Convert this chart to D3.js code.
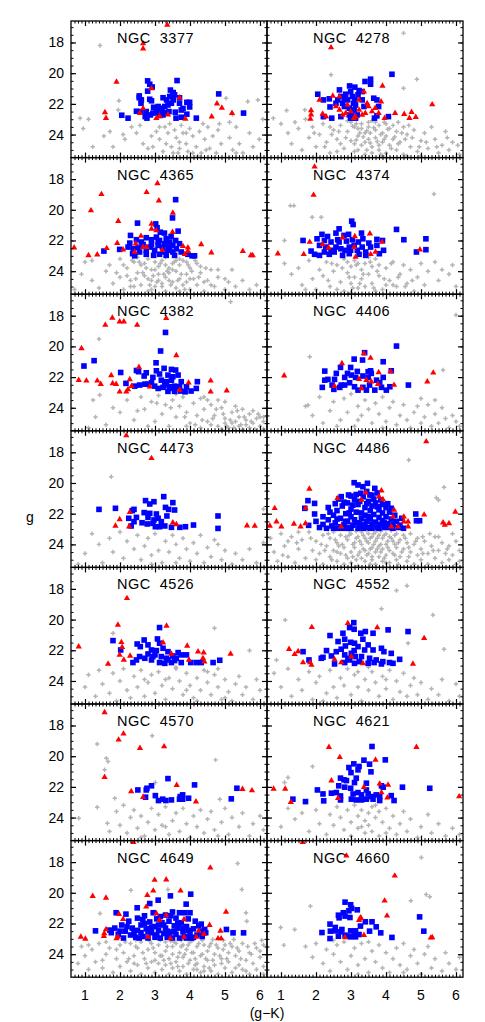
<!doctype html>
<html>
<head>
<meta charset="utf-8">
<script src="https://d3js.org/d3.v7.min.js"></script>
<style>
body { margin:0; background:#fff; }
text { font-family:"Liberation Sans", Arial, sans-serif; fill:#000; }
</style>
</head>
<body>
<script>
// ---------- data: flat lists of (g-K, g) pairs ----------
var galaxyNames = ['NGC 3377','NGC 4278','NGC 4365','NGC 4374','NGC 4382','NGC 4406','NGC 4473',
                   'NGC 4486','NGC 4526','NGC 4552','NGC 4570','NGC 4621','NGC 4649','NGC 4660'];
var xTicks = [1,2,3,4,5,6];
var yTicks = [18,20,22,24];

var ngc3377Red = [3.35,16.85, 2.66,18.07, 2.66,18.4, 1.9,20.57, 1.57,22.55, 1.6,22.93, 2.66,22.3, 2.57,22.6, 2.9,21.0,
  3.04,22.93, 3.13,22.8, 3.37,22.7, 3.7,21.6, 3.87,22.98, 4.62,22.83, 4.77,21.98, 4.91,22.26, 5.2,22.6];
var ngc3377Blue = [2.79,20.5, 2.85,20.72, 2.92,20.9, 2.79,21.17, 2.55,21.48, 2.55,21.6, 2.61,21.74, 2.85,21.7, 2.9,21.8,
  2.6,21.96, 2.47,22.48, 2.6,22.5, 2.75,22.5, 2.72,22.83, 2.87,22.72, 2.96,22.22, 3.04,22.4, 3.13,22.28, 3.2,22.4,
  3.28,22.17, 3.23,21.6, 3.33,21.74, 3.37,22.07, 3.44,21.1, 3.52,21.26, 3.5,21.48, 3.56,21.41, 3.63,20.48, 3.42,21.52,
  3.47,21.96, 3.52,21.74, 3.4,22.5, 3.33,22.57, 3.23,22.72, 3.14,22.76, 3.04,22.57, 2.94,22.6, 3.58,22.54, 3.6,22.93,
  3.75,22.87, 3.7,21.96, 3.75,22.4, 3.8,22.3, 3.91,21.9, 3.99,21.9, 3.99,22.2, 3.91,22.67, 4.18,22.93, 4.82,21.35,
  5.53,22.6, 2.23,22.93, 2.05,22.74, 2.77,22.93, 3.7,21.6, 3.21,22.6, 3.09,22.17];
var ngc3377Grey = [1.43,18.2, 1.97,21.8, 0.86,22.93, 1.1,23.0, 0.95,23.6, 1.22,24.8, 1.54,24.1, 1.8,24.8, 2.09,24.0,
  2.14,24.3, 2.33,23.5, 2.47,23.9, 2.57,23.4, 2.66,24.6, 2.8,24.9, 2.9,24.1, 3.04,23.8, 3.13,24.3, 3.23,25.1, 3.28,23.5,
  3.37,23.9, 3.42,23.3, 3.47,24.8, 3.52,25.2, 3.56,23.7, 3.61,24.2, 3.7,24.9, 3.75,23.4, 3.8,23.9, 3.89,24.6, 3.94,25.1,
  3.99,23.6, 4.08,24.1, 4.18,24.8, 4.27,23.8, 4.32,25.2, 4.42,24.3, 4.51,23.5, 4.56,24.9, 4.65,24.1, 4.75,25.2, 4.8,23.7,
  4.89,24.6, 5.03,21.63, 5.13,24.2, 5.22,25.0, 5.32,23.5, 5.41,24.6, 5.51,25.2, 5.65,21.85, 5.7,23.9, 5.8,24.8,
  5.94,21.74, 5.98,24.3, 6.08,23.0, 1.95,22.4, 1.71,23.8, 3.13,23.5, 3.66,25.2, 4.08,25.2, 4.46,25.0, 5.32,25.2, 3.89,23.9,
  2.94,24.8, 3.32,24.6, 3.7,24.5, 5.13,23.2, 5.22,22.7, 4.37,23.3, 4.84,23.3, 4.22,25.4];

var ngc4278Red = [2.43,18.33, 3.9,20.83, 1.86,22.43, 1.86,22.7, 1.84,22.98, 2.1,21.74, 2.19,22.65, 2.29,22.83, 2.48,21.48,
  2.57,22.17, 2.67,22.39, 2.76,22.72, 2.85,22.6, 2.9,22.07, 2.99,22.5, 3.13,22.83, 3.23,22.39, 3.32,22.72, 3.41,22.6,
  3.5,22.17, 3.6,22.5, 3.69,22.28, 3.79,22.6, 3.86,21.85, 3.96,22.93, 4.26,22.6, 4.52,22.67, 4.67,22.93, 4.73,22.54,
  4.85,22.87, 5.32,22.04, 3.37,21.2, 3.23,21.74, 2.67,21.52, 3.08,22.93, 3.46,21.96];
var ngc4278Blue = [4.17,20.07, 3.56,20.39, 3.56,20.72, 3.4,20.54, 2.96,20.83, 3.11,20.91, 2.99,21.2, 2.85,21.37, 3.23,21.13,
  3.32,21.2, 2.05,21.37, 2.21,21.74, 2.38,21.67, 2.4,22.2, 2.62,21.74, 2.71,21.52, 2.76,21.96, 2.9,21.74, 3.04,21.52,
  3.11,21.74, 3.13,22.07, 3.09,22.39, 3.02,22.6, 2.95,22.28, 3.18,22.72, 3.13,22.93, 2.99,22.93, 2.71,22.83, 2.45,22.93,
  2.21,22.83, 2.81,22.17, 3.32,21.74, 3.37,22.17, 3.65,21.63, 3.74,21.74, 3.79,22.17, 3.67,22.93, 3.74,22.78, 4.07,22.83,
  2.57,21.96, 2.67,21.09, 2.81,21.63, 3.2,21.41, 3.07,21.96, 2.95,22.72];
var ngc4278Grey = [4.5,17.39, 2.43,20.1, 4.88,20.39, 4.5,20.98, 1.68,22.39, 1.16,22.43, 0.78,22.93, 1.0,23.3, 1.2,23.9,
  1.3,24.6, 1.5,23.6, 1.6,25.0, 1.8,24.2, 1.9,23.5, 2.0,24.8, 2.1,24.0, 2.2,23.3, 2.3,24.5, 2.4,25.2, 2.5,23.7, 2.6,24.3,
  2.7,23.4, 2.8,24.9, 2.9,23.8, 3.0,23.2, 3.0,24.4, 3.1,25.1, 3.2,23.6, 3.2,24.1, 3.3,23.3, 3.3,24.7, 3.4,23.9, 3.4,25.3,
  3.5,23.5, 3.5,24.3, 3.6,23.1, 3.6,24.8, 3.7,23.7, 3.7,24.2, 3.8,25.0, 3.8,23.4, 3.9,24.5, 3.9,23.9, 4.0,24.1, 4.0,25.2,
  4.1,23.6, 4.1,24.7, 4.2,24.3, 4.3,25.0, 4.3,23.8, 4.4,24.5, 4.5,25.3, 4.6,24.0, 4.7,24.8, 4.8,23.7, 4.9,25.1, 5.0,24.4,
  5.1,23.9, 5.2,24.9, 5.4,24.3, 5.5,25.2, 5.6,24.7, 5.8,25.0, 5.9,24.5, 6.1,25.3, 2.9,23.1, 3.1,23.5, 3.5,23.2, 3.3,23.6,
  3.7,23.2, 4.2,23.4, 2.7,24.6, 3.6,25.2, 3.1,24.6, 3.4,24.5, 3.8,24.7, 4.5,23.5, 5.3,23.5, 1.4,23.2, 2.4,23.5, 4.0,23.3,
  3.2,25.0, 2.6,25.1, 4.6,25.4, 5.0,25.4, 3.9,25.4, 5.7,23.8, 3.05,23.45, 3.25,23.9, 3.45,23.75, 3.65,23.55, 3.85,24.0,
  4.05,23.65, 4.25,24.15, 4.45,23.9, 3.15,24.35, 3.35,24.15, 3.55,24.55, 3.75,24.45, 3.95,24.3, 4.15,24.9, 4.35,24.6,
  4.55,24.3, 2.85,24.2, 2.65,23.8, 3.45,25.0, 3.85,25.3, 4.75,24.2, 4.95,24.8, 5.15,24.5, 5.45,24.8, 2.45,24.0, 2.25,24.8,
  1.95,23.9, 3.55,23.9, 3.15,23.3, 4.65,23.4, 5.75,24.2, 6.05,24.7, 1.7,23.0, 2.2,22.9, 3.95,23.2, 4.35,23.2];

var ngc4365Red = [3.07,18.28, 2.76,18.86, 3.11,19.4, 1.47,18.99, 1.17,20.05, 1.95,20.74, 3.51,20.2, 2.9,20.92, 2.9,21.24,
  3.04,21.35, 3.5,21.46, 2.6,21.71, 1.92,22.17, 0.69,22.47, 1.1,22.97, 1.35,22.92, 1.62,22.51, 2.09,22.6, 2.45,22.21,
  2.66,22.43, 2.76,22.43, 3.21,22.64, 3.8,22.38, 3.94,22.47, 3.85,22.9, 3.94,22.69, 4.32,22.25, 4.61,22.79, 5.51,22.69,
  5.74,22.97, 5.79,22.97, 2.42,22.75];
var ngc4365Blue = [3.59,19.34, 3.5,20.53, 2.5,20.87, 3.02,20.92, 3.06,21.17, 3.66,21.39, 3.15,21.46, 3.27,21.52, 2.3,21.67,
  2.75,21.82, 2.9,21.95, 3.04,21.78, 3.13,22.0, 3.32,21.89, 3.46,21.74, 3.59,22.0, 2.61,22.1, 2.47,21.95, 2.28,22.17,
  1.99,22.58, 1.54,22.69, 2.23,22.43, 2.38,22.54, 2.36,22.86, 2.42,23.0, 2.56,22.75, 2.75,22.64, 2.86,22.43, 2.99,22.64,
  3.09,22.32, 3.21,22.43, 3.28,22.75, 3.37,22.43, 3.42,22.64, 3.51,22.32, 3.61,22.54, 3.7,22.21, 3.56,22.97, 3.32,22.97,
  3.13,22.9, 2.96,22.97, 2.75,22.9, 2.9,22.26, 3.09,22.1, 3.27,22.21, 3.42,22.1, 3.75,22.75, 3.94,22.9, 4.06,23.0,
  4.13,23.0, 2.66,22.26, 2.52,22.47, 3.51,22.75];
var ngc4365Grey = [0.9,24.2, 1.0,23.4, 1.2,24.6, 1.4,25.1, 1.6,24.0, 1.7,23.6, 1.8,24.8, 2.0,23.2, 2.0,24.4, 2.1,25.2,
  2.2,23.8, 2.3,24.6, 2.4,23.4, 2.4,25.0, 2.5,24.1, 2.6,23.6, 2.6,24.9, 2.7,24.3, 2.8,23.2, 2.8,25.3, 2.9,23.9, 2.9,24.6,
  3.0,23.4, 3.0,25.0, 3.1,24.2, 3.1,23.7, 3.2,24.8, 3.2,23.3, 3.3,24.4, 3.3,25.3, 3.4,23.8, 3.4,24.1, 3.5,23.5, 3.5,24.7,
  3.6,25.1, 3.6,24.0, 3.7,23.6, 3.7,24.5, 3.8,23.3, 3.8,24.9, 3.9,24.2, 4.0,23.8, 4.0,25.2, 4.1,24.5, 4.2,23.5, 4.2,24.9,
  4.3,24.1, 4.4,25.3, 4.5,24.6, 4.6,23.9, 4.7,25.0, 4.8,24.4, 5.0,25.2, 5.1,24.7, 5.3,25.0, 5.5,24.6, 5.7,25.2, 5.9,24.9,
  2.5,23.1, 2.7,23.5, 3.0,23.9, 3.3,23.1, 3.4,24.6, 3.9,23.4, 2.2,24.3, 2.8,24.5, 3.2,25.0, 3.6,23.3, 4.3,23.7, 4.6,24.9,
  2.9,25.2, 3.7,25.3, 3.1,24.6, 4.0,24.5, 2.3,25.0, 5.2,23.9, 1.2,23.3, 0.7,25.2, 2.55,23.4, 2.75,23.8, 2.95,24.3,
  3.15,23.5, 3.35,24.0, 3.55,23.4, 3.75,24.2, 3.95,23.6, 3.05,24.7, 3.25,24.2, 3.45,24.9, 3.65,24.6, 3.85,25.2, 4.05,24.0,
  4.25,24.4, 4.45,23.8, 2.45,24.5, 2.65,24.1, 2.85,24.9, 3.3,23.6, 3.5,23.9, 3.7,23.2, 4.15,23.3, 4.4,24.7, 4.8,23.9,
  5.0,24.5, 1.9,24.1, 2.1,23.6, 2.35,23.3, 3.9,24.7];

var ngc4374Red = [1.96,17.2, 1.93,19.04, 0.91,22.86, 1.65,22.9, 1.82,22.1, 2.19,22.25, 2.36,22.47, 2.76,21.82, 3.11,21.74,
  3.54,21.56, 3.89,22.1, 3.7,22.75, 3.13,23.08, 3.56,22.9, 4.97,22.6, 3.09,22.43];
var ngc4374Blue = [3.02,20.74, 3.06,20.96, 2.66,21.24, 2.57,21.52, 2.17,21.6, 2.33,21.74, 2.8,21.67, 2.93,21.6, 3.3,21.52,
  4.3,21.28, 1.63,22.0, 2.03,21.89, 2.24,22.0, 2.43,22.1, 2.62,21.95, 2.87,22.04, 3.04,21.95, 3.21,22.1, 3.34,21.89,
  3.51,22.17, 3.74,21.93, 3.9,22.0, 4.51,21.95, 5.14,21.89, 2.1,22.32, 2.28,22.43, 2.43,22.64, 2.57,22.43, 2.71,22.54,
  2.83,22.64, 2.95,22.43, 3.09,22.32, 3.18,22.64, 3.32,22.43, 3.42,22.75, 3.56,22.43, 3.74,22.32, 3.93,22.64, 3.81,22.86,
  1.86,22.69, 1.96,22.9, 2.1,22.97, 2.24,22.75, 2.38,22.9, 2.52,22.75, 2.76,22.97, 2.95,22.86, 3.23,22.9, 3.42,22.97,
  4.87,22.75, 5.14,22.6, 2.66,22.1, 2.99,22.64];
var ngc4374Grey = [1.27,19.73, 1.37,19.73, 5.37,18.97, 1.89,20.48, 2.15,20.48, 1.1,22.0, 1.1,23.5, 1.3,24.2, 1.5,23.8,
  1.6,24.9, 1.8,23.3, 1.9,24.5, 2.0,25.2, 2.1,23.9, 2.2,24.3, 2.3,23.4, 2.4,25.0, 2.5,24.0, 2.6,23.6, 2.7,24.7, 2.8,23.2,
  2.8,25.3, 2.9,24.1, 3.0,23.7, 3.0,24.8, 3.1,23.3, 3.1,24.4, 3.2,25.1, 3.3,23.9, 3.3,24.5, 3.4,23.5, 3.4,25.0, 3.5,24.2,
  3.6,23.7, 3.6,24.8, 3.7,23.2, 3.8,24.3, 3.9,25.2, 4.0,23.8, 4.1,24.6, 4.2,23.4, 4.3,25.0, 4.4,24.2, 4.5,23.6, 4.6,24.8,
  4.7,23.9, 4.8,25.3, 4.9,24.4, 5.0,23.5, 5.1,24.9, 5.2,24.0, 5.4,23.4, 5.5,24.6, 5.6,23.9, 5.8,24.2, 5.9,23.6, 6.0,25.0,
  2.9,23.4, 3.2,23.5, 3.5,23.1, 2.6,25.2, 3.8,23.6, 4.2,24.9, 1.7,25.2, 3.0,25.4, 3.7,25.3, 4.0,24.9, 2.75,23.8, 2.95,24.4,
  3.15,23.6, 3.35,24.2, 3.55,23.4, 3.75,24.0, 3.95,24.5, 4.15,23.5, 3.25,24.8, 3.65,25.1, 4.35,24.4, 4.55,25.0, 2.45,23.5,
  2.35,24.6, 3.05,25.1, 4.75,24.6];

var ngc4382Red = [1.78,18.15, 1.58,18.61, 1.99,18.39, 2.11,18.39, 2.49,18.61, 3.32,18.17, 0.9,20.13, 3.61,20.59, 2.54,21.35,
  1.75,21.89, 0.82,22.2, 1.04,22.24, 1.35,22.24, 1.45,22.46, 1.79,22.41, 1.89,22.46, 2.28,22.15, 2.33,22.59, 2.23,22.8,
  2.18,22.96, 1.99,22.96, 2.85,22.63, 3.96,22.37, 4.59,22.24, 4.59,22.96, 5.05,22.89, 3.7,22.85];
var ngc4382Blue = [3.3,19.09, 3.16,20.3, 1.26,20.93, 0.97,21.28, 3.03,21.07, 2.02,21.7, 2.47,21.57, 2.53,21.65, 2.75,21.72,
  3.04,21.59, 3.26,21.43, 3.47,21.5, 3.59,21.54, 2.69,21.93, 2.94,22.02, 3.13,21.8, 3.37,21.87, 3.51,21.98, 3.66,21.87,
  3.47,22.2, 3.33,22.3, 3.18,22.2, 2.17,22.41, 2.42,22.59, 2.71,22.46, 2.8,22.46, 2.99,22.59, 3.23,22.67, 3.42,22.63,
  3.56,22.59, 3.75,22.3, 3.9,22.63, 4.21,22.3, 4.18,22.74, 3.37,22.93, 3.56,22.93, 3.73,22.91, 3.86,22.96, 4.03,22.91,
  3.51,22.74, 3.28,22.52, 3.09,22.74, 2.9,22.37, 3.7,22.63, 2.56,22.52];
var ngc4382Grey = [5.16,17.09, 1.4,19.52, 1.42,23.17, 1.23,23.5, 2.0,24.3, 2.2,23.5, 2.4,24.8, 2.6,23.3, 2.7,24.1, 2.9,23.6,
  3.0,24.9, 3.1,23.2, 3.2,24.4, 3.3,23.8, 3.4,25.2, 3.5,23.5, 3.6,24.6, 3.7,23.9, 3.8,23.3, 3.9,24.3, 4.0,25.0, 4.1,23.7,
  4.2,24.5, 4.3,23.4, 4.4,24.1, 4.5,24.9, 4.6,23.8, 4.7,24.5, 4.8,25.2, 4.9,24.0, 5.0,24.7, 5.0,23.6, 5.1,25.3, 5.2,24.3,
  5.3,24.9, 5.4,24.6, 5.4,25.2, 5.5,24.1, 5.6,24.8, 5.7,25.3, 5.7,24.4, 5.8,25.0, 5.9,24.7, 6.0,25.2, 6.1,24.9, 6.1,25.4,
  5.5,25.4, 5.2,25.0, 4.9,25.4, 4.6,25.1, 4.3,25.3, 3.9,25.2, 1.3,24.6, 1.6,25.1, 1.8,24.0, 1.1,25.3, 4.8,23.5, 5.3,23.9,
  5.8,24.2, 4.4,23.3, 3.6,23.1, 2.8,25.2, 5.0,25.0, 5.6,25.1, 6.0,24.6, 4.5,23.5, 4.75,24.1, 4.95,24.4, 5.15,24.8,
  5.35,24.2, 5.55,24.6, 5.75,24.9, 5.95,24.4, 6.1,24.6, 5.45,25.1, 5.05,25.2, 4.65,24.7, 4.35,24.8, 3.85,24.6, 3.45,24.0,
  3.05,23.7, 2.5,24.2, 5.85,25.4, 5.25,25.3, 4.15,25.1];

var ngc4406Red = [1.09,21.91, 2.74,21.11, 3.37,20.46, 3.56,20.76, 3.23,22.13, 3.79,21.7, 3.44,22.2, 3.58,22.3, 3.77,22.46,
  4.13,21.63, 4.23,22.52, 5.35,21.72, 5.18,22.3, 2.53,22.59, 3.3,22.74];
var ngc4406Blue = [4.3,19.98, 3.39,20.41, 3.33,20.89, 3.09,20.83, 3.92,21.0, 2.7,21.37, 2.25,21.61, 2.99,21.37, 3.18,21.63,
  2.9,21.76, 3.49,21.65, 3.58,21.76, 3.56,21.59, 4.15,21.59, 2.58,21.76, 2.25,22.2, 2.34,22.15, 2.53,22.15, 2.82,22.02,
  3.01,21.87, 3.13,22.02, 3.34,21.93, 3.49,22.02, 3.73,22.2, 3.92,22.02, 2.18,22.67, 2.46,22.52, 2.51,22.8, 2.68,22.67,
  2.82,22.52, 3.1,22.63, 3.2,22.85, 3.34,22.67, 3.44,22.85, 3.68,22.85, 3.87,22.67, 4.01,22.85, 4.11,22.63, 4.64,22.52,
  2.96,22.37, 3.53,22.52, 3.82,22.37, 2.72,22.52];
var ngc4406Grey = [1.82,20.67, 5.63,21.54, 6.0,17.96, 1.77,23.83, 1.7,23.9, 1.9,24.5, 2.1,23.3, 2.2,25.0, 2.4,24.2, 2.5,23.6,
  2.7,24.8, 2.8,23.4, 2.9,24.3, 3.0,23.1, 3.1,25.2, 3.2,23.9, 3.3,24.5, 3.4,23.5, 3.5,24.1, 3.6,25.0, 3.7,23.7, 3.8,24.4,
  3.9,23.3, 4.0,24.9, 4.1,24.0, 4.2,23.6, 4.3,25.1, 4.4,24.5, 4.5,23.8, 4.6,24.8, 4.7,25.3, 4.8,24.3, 4.9,23.9, 5.0,25.0,
  5.1,24.6, 5.2,23.8, 5.3,25.2, 5.4,24.4, 5.5,25.0, 5.6,24.0, 5.7,24.7, 5.8,25.3, 5.9,24.5, 6.0,24.9, 6.1,25.2, 5.4,23.5,
  5.0,23.4, 3.2,24.8, 2.6,25.2, 3.9,25.3];

var ngc4473Red = [2.18,16.91, 2.9,18.39, 1.99,22.37, 1.87,22.8, 2.28,21.91, 2.26,22.85, 3.51,22.59, 3.61,22.7, 5.63,22.78,
  5.85,22.8];
var ngc4473Blue = [3.25,20.89, 2.73,21.15, 2.97,21.22, 2.85,21.37, 3.51,21.28, 3.3,21.59, 3.39,21.72, 2.4,21.72, 1.4,21.72,
  1.87,21.65, 2.35,21.8, 3.56,21.76, 2.69,21.93, 2.85,21.98, 3.04,22.02, 3.34,22.15, 2.47,22.24, 2.25,22.3, 2.8,22.24,
  2.97,22.41, 3.09,22.3, 3.18,22.52, 4.8,22.15, 2.4,22.52, 2.63,22.59, 2.78,22.67, 2.94,22.63, 3.01,22.85, 3.13,22.85,
  3.28,22.8, 3.47,22.89, 3.71,22.89, 3.87,22.85, 4.1,22.74, 4.8,22.96, 2.32,22.8];
var ngc4473Grey = [1.75,19.59, 1.0,24.6, 1.2,23.3, 1.4,24.0, 1.5,25.2, 1.7,23.6, 1.8,24.5, 2.0,23.2, 2.1,24.9, 2.2,23.8,
  2.4,24.3, 2.5,23.4, 2.6,25.0, 2.7,24.1, 2.8,23.6, 2.9,24.7, 3.0,23.3, 3.1,24.4, 3.2,25.2, 3.3,23.8, 3.4,24.5, 3.5,23.4,
  3.6,24.0, 3.7,24.9, 3.8,23.6, 3.9,24.3, 4.0,25.1, 4.1,23.9, 4.2,24.6, 4.3,23.4, 4.4,25.2, 4.5,24.2, 4.6,24.8, 4.7,23.7,
  4.9,25.0, 5.0,24.4, 5.2,25.3, 5.3,24.6, 5.5,25.0, 5.7,24.3, 5.9,25.2, 6.1,23.9, 6.1,21.7, 2.9,25.3, 3.6,25.2, 4.8,24.0,
  0.8,25.3];

var ngc4486Red = [5.15,17.3, 1.81,20.39, 0.82,21.65, 0.68,22.8, 0.87,22.52, 1.01,22.85, 1.37,22.67, 1.56,22.85, 1.7,22.63,
  1.7,21.65, 2.61,21.0, 3.42,20.63, 3.87,20.5, 3.91,21.07, 3.8,20.89, 4.23,21.76, 4.51,22.2, 5.09,22.07, 4.63,22.52,
  4.63,22.85, 5.63,22.59, 5.8,22.63, 5.68,22.74, 5.98,21.89, 4.51,22.52, 4.34,22.85, 2.72,22.85, 4.15,22.85, 3.3,21.11,
  4.2,22.2];
var ngc4486Blue = [3.09,19.98, 3.2,20.13, 3.47,20.02, 3.34,20.24, 3.68,20.35, 3.28,20.67, 3.54,20.78, 2.72,20.89, 2.93,20.78,
  1.77,21.15, 1.96,21.33, 1.68,21.65, 1.96,22.02, 1.79,22.76, 4.85,22.02, 4.87,22.46, 4.96,22.46,
  2.35,22.4, 2.45,22.8, 2.5,22.1, 2.55,22.6, 2.6,21.8, 2.65,22.95, 2.7,22.3, 2.75,21.5, 2.8,22.7, 2.85,22.0, 2.9,21.3,
  2.9,22.5, 2.95,22.9, 3.0,21.7, 3.0,22.2, 3.05,22.75, 3.1,21.1, 3.1,22.4, 3.15,21.9, 3.2,22.95, 3.2,21.4, 3.25,22.6,
  3.3,21.95, 3.3,22.3, 3.35,20.9, 3.35,22.8, 3.4,21.6, 3.4,22.1, 3.45,22.5, 3.5,21.2, 3.5,22.9, 3.55,21.8, 3.55,22.35,
  3.6,21.5, 3.6,22.7, 3.65,22.05, 3.7,21.3, 3.7,22.55, 3.75,22.9, 3.8,21.75, 3.8,22.25, 3.85,21.1, 3.85,22.7, 3.9,21.95,
  3.9,22.45, 3.95,22.9, 4.0,21.6, 4.0,22.2, 4.05,22.65, 4.1,21.9, 4.1,22.9, 4.15,22.35, 4.2,22.7, 4.25,22.1, 4.3,22.5,
  4.35,22.9, 4.4,22.75, 2.4,21.9, 2.5,22.95, 2.6,22.35, 2.7,22.85, 2.8,21.25, 2.85,22.5, 2.95,21.95, 3.05,21.45,
  3.15,22.6, 3.25,21.2, 3.25,22.85, 3.4,22.7, 3.45,21.35, 3.5,22.2, 3.6,22.95, 3.65,21.05, 3.75,21.55, 3.8,22.95, 3.9,21.4,
  4.0,22.85, 4.05,21.35, 4.15,21.65, 2.2,22.7, 2.3,22.95, 2.35,21.6, 2.55,21.35, 2.65,21.05, 3.0,20.85, 3.15,20.75,
  3.45,20.55, 3.6,20.8, 3.75,20.65, 2.2,22.2, 2.1,22.9, 2.0,22.5, 4.45,22.3, 4.5,22.95, 3.0,22.95, 3.35,22.95, 2.75,22.95,
  3.55,22.95, 3.95,22.6, 4.2,22.95, 2.9,22.95];
var ngc4486Grey = [4.65,18.5, 5.66,20.28, 5.44,20.96, 5.5,21.11, 0.7,23.6, 0.8,24.5, 0.9,25.1, 1.0,23.3, 1.1,24.1, 1.2,24.8,
  1.3,23.5, 1.4,25.2, 1.5,24.3, 1.6,23.7, 1.7,24.9, 1.8,23.2, 1.9,24.4, 2.0,25.0, 2.0,23.8, 2.1,24.6, 2.2,23.4, 2.2,25.3,
  2.3,24.1, 2.4,23.6, 2.4,24.8, 2.5,23.2, 2.5,24.4, 2.6,25.1, 2.6,23.9, 2.7,24.6, 2.7,23.4, 2.8,24.2, 2.8,25.3, 2.9,23.7,
  2.9,24.9, 3.0,23.3, 3.0,24.5, 3.0,25.2, 3.1,23.9, 3.1,24.2, 3.2,23.5, 3.2,24.7, 3.2,25.4, 3.3,23.2, 3.3,24.0, 3.3,24.9,
  3.4,23.6, 3.4,24.4, 3.4,25.1, 3.5,23.3, 3.5,23.9, 3.5,24.6, 3.6,23.5, 3.6,24.2, 3.6,25.0, 3.7,23.2, 3.7,23.8, 3.7,24.5,
  3.7,25.3, 3.8,23.4, 3.8,24.1, 3.8,24.8, 3.9,23.6, 3.9,24.3, 3.9,25.1, 4.0,23.3, 4.0,24.0, 4.0,24.7, 4.1,23.5, 4.1,24.4,
  4.1,25.2, 4.2,23.8, 4.2,24.6, 4.3,23.3, 4.3,24.2, 4.3,25.0, 4.4,23.7, 4.4,24.8, 4.5,23.4, 4.5,24.3, 4.6,25.1, 4.6,23.9,
  4.7,24.5, 4.7,23.3, 4.8,25.3, 4.8,24.0, 4.9,24.7, 4.9,23.6, 5.0,24.3, 5.0,25.0, 5.1,23.8, 5.2,24.6, 5.2,25.3, 5.3,24.1,
  5.4,23.5, 5.4,24.9, 5.5,24.4, 5.6,25.2, 5.6,23.9, 5.7,24.6, 5.8,25.0, 5.8,24.1, 5.9,24.7, 6.0,25.3, 6.0,23.8, 6.1,24.4,
  3.15,23.15, 3.45,23.1, 3.85,23.15, 2.95,23.1, 4.15,23.1, 3.55,23.6, 3.25,23.8, 3.65,24.0, 2.85,23.5, 4.05,23.8, 3.35,24.3,
  3.75,24.3, 4.25,24.0, 2.65,24.1, 3.05,24.8, 3.95,24.9, 4.45,24.5, 2.45,25.0, 3.55,25.3, 4.35,25.3, 1.5,23.2, 1.2,23.8,
  5.5,23.5, 5.9,23.3, 6.1,25.1, 2.15,24.0, 2.35,23.3, 2.55,23.7, 2.75,24.0, 2.95,23.4, 3.05,24.0, 3.15,23.6, 3.25,24.5,
  3.35,23.4, 3.45,23.8, 3.55,24.3, 3.65,23.3, 3.75,23.6, 3.85,24.0, 3.95,23.4, 4.05,24.2, 4.15,23.6, 4.25,23.4, 4.35,23.9,
  4.55,23.6, 4.65,24.2, 4.85,23.8, 5.05,23.5, 2.85,24.7, 3.15,25.0, 3.45,24.7, 3.85,24.5, 4.25,24.7, 4.65,24.8, 5.05,24.6,
  5.35,24.4, 5.75,24.3, 1.85,23.6, 1.45,23.9, 1.05,24.7, 2.25,24.4, 3.6,24.8, 4.0,25.2, 2.6,24.5, 5.25,23.3];

var ngc4526Red = [2.2,18.61, 1.94,20.35, 3.33,20.41, 2.04,21.48, 2.06,21.8, 1.99,22.3, 2.11,22.63, 2.29,22.37, 1.66,22.89,
  0.82,21.76, 3.23,21.5, 3.92,21.72, 4.23,22.09, 4.39,22.15, 4.37,22.52, 4.41,22.74, 3.97,22.63, 5.16,22.24, 3.47,22.24];
var ngc4526Blue = [3.13,20.52, 1.8,21.37, 2.69,21.33, 3.07,21.26, 2.49,21.59, 2.58,21.76, 2.02,21.98, 2.8,21.65, 3.13,21.54,
  2.9,21.98, 3.04,22.02, 3.23,21.87, 3.37,22.09, 3.66,22.15, 2.8,22.24, 3.0,22.3, 3.18,22.41, 3.33,22.52, 3.51,22.37,
  3.75,22.3, 2.71,22.52, 2.47,22.63, 2.37,22.8, 2.9,22.63, 3.13,22.8, 3.28,22.85, 3.37,22.63, 3.56,22.67, 3.75,22.8,
  4.02,22.8, 4.18,22.8, 4.32,22.8, 4.66,22.8, 4.85,22.65, 3.9,22.3, 3.61,22.52, 3.47,22.8, 2.94,22.41, 2.56,22.41];
var ngc4526Grey = [4.7,20.57, 1.8,20.89, 5.7,22.02, 1.0,24.4, 1.1,23.6, 1.3,25.0, 1.4,23.3, 1.5,24.2, 1.7,24.8, 1.8,23.5,
  1.9,25.3, 2.0,24.0, 2.1,23.2, 2.2,24.6, 2.3,25.1, 2.4,23.7, 2.5,24.4, 2.6,23.3, 2.7,25.0, 2.8,24.1, 2.9,23.6, 3.0,24.8,
  3.1,23.4, 3.2,24.3, 3.3,25.2, 3.4,23.8, 3.5,24.5, 3.6,23.2, 3.7,24.0, 3.8,24.9, 3.9,23.5, 4.0,24.3, 4.1,25.1, 4.2,23.8,
  4.3,24.6, 4.4,23.3, 4.5,24.1, 4.6,24.9, 4.7,23.6, 4.8,24.4, 4.9,25.2, 5.0,23.9, 5.1,24.7, 5.2,25.3, 5.3,24.2, 5.4,23.7,
  5.5,24.9, 5.6,24.4, 5.8,25.2, 5.9,23.9, 6.0,24.6, 3.6,23.1, 3.9,24.6, 4.2,25.3, 4.5,23.4, 3.3,23.9, 2.7,23.9, 4.8,23.2,
  5.0,25.1];

var ngc4552Red = [2.91,20.24, 1.88,20.5, 3.75,20.52, 5.09,21.22, 1.23,21.93, 1.49,22.07, 1.39,22.26, 1.63,22.8, 1.87,22.96,
  1.83,22.8, 2.53,22.59, 2.72,22.8, 3.01,22.41, 3.34,22.85, 4.77,22.89];
var ngc4552Blue = [3.08,20.2, 2.96,20.52, 3.09,20.63, 3.28,20.89, 3.41,20.78, 3.63,20.89, 4.06,20.67, 4.63,20.78, 2.4,21.04,
  2.77,20.89, 2.82,21.28, 2.63,21.43, 2.99,21.48, 3.1,21.54, 3.34,21.28, 3.49,21.65, 2.84,21.72, 2.72,21.93, 2.58,22.09,
  3.2,21.76, 3.09,22.02, 3.39,21.98, 3.63,21.98, 3.87,21.87, 3.94,22.09, 4.15,22.2, 2.3,22.02, 1.63,22.09, 2.2,22.46,
  2.44,22.37, 2.82,22.3, 3.01,22.2, 3.3,22.41, 3.53,22.52, 3.72,22.63, 3.91,22.74, 4.1,22.8, 4.39,22.59, 1.8,22.63,
  2.15,22.52, 2.53,22.89, 2.82,22.8, 2.96,22.63, 3.1,22.85, 3.24,22.74, 3.49,22.85, 3.66,22.8, 3.87,22.89, 4.2,22.85,
  3.12,22.41, 2.91,22.52];
var ngc4552Grey = [1.12,20.02, 3.87,19.3, 4.6,17.8, 4.3,18.11, 5.34,19.7, 4.63,21.54, 5.66,21.93, 0.87,22.63, 0.8,23.5,
  1.0,24.4, 1.2,23.2, 1.3,25.0, 1.5,23.9, 1.6,24.6, 1.8,23.4, 1.9,25.2, 2.0,24.1, 2.1,23.7, 2.3,24.8, 2.4,23.3, 2.5,24.4,
  2.6,25.1, 2.7,23.8, 2.8,24.3, 2.9,23.2, 3.0,24.9, 3.1,23.6, 3.2,24.4, 3.3,25.3, 3.4,23.9, 3.5,24.6, 3.6,23.4, 3.7,24.1,
  3.8,25.0, 3.9,23.7, 4.0,24.5, 4.1,23.3, 4.2,25.2, 4.3,24.0, 4.4,24.7, 4.5,23.5, 4.6,25.0, 4.7,24.3, 4.8,23.8, 4.9,24.9,
  5.0,24.1, 5.2,25.2, 5.3,24.5, 5.5,24.9, 5.6,23.9, 5.8,25.3, 6.0,24.2, 6.1,25.0, 3.5,23.1, 4.0,23.9, 3.2,23.4, 2.2,25.3];

var ngc4570Red = [1.56,17.15, 2.1,18.54, 1.96,18.93, 2.57,19.48, 3.26,19.37, 1.56,21.37, 2.32,22.3, 2.66,22.67, 3.62,21.89,
  4.17,22.96, 5.5,22.15, 5.77,22.24];
var ngc4570Blue = [3.37,21.46, 2.9,21.93, 2.77,22.09, 2.75,22.2, 2.51,22.2, 2.73,22.67, 3.01,22.57, 3.1,22.89, 3.22,22.8,
  3.31,22.89, 3.47,22.85, 3.72,22.63, 3.79,22.52, 3.79,22.8, 3.96,22.74, 4.13,21.87, 5.34,22.09, 5.18,22.78, 3.7,22.8];
var ngc4570Grey = [1.35,19.2, 1.61,20.13, 1.66,20.35, 1.56,20.89, 2.92,18.67, 4.73,20.24, 3.01,21.72, 1.85,22.74,
  1.35,23.33, 0.82,24.04, 1.64,24.37, 4.85,22.8, 1.9,23.6, 2.0,24.5, 2.1,23.2, 2.2,25.0, 2.3,24.0, 2.4,23.5, 2.5,24.7,
  2.6,23.9, 2.7,25.2, 2.8,24.3, 2.9,23.4, 3.0,24.8, 3.1,23.8, 3.2,24.5, 3.3,23.3, 3.4,25.1, 3.5,24.2, 3.6,23.7, 3.7,24.9,
  3.8,23.4, 3.9,24.4, 4.0,25.3, 4.1,23.9, 4.2,24.6, 4.3,23.5, 4.4,25.0, 4.5,24.1, 4.6,23.6, 4.7,24.8, 4.9,24.3, 5.0,23.4,
  5.1,25.1, 5.2,24.0, 5.4,24.6, 5.5,23.7, 5.7,25.2, 5.8,24.4, 6.0,23.9, 6.1,24.8, 2.6,25.3, 3.3,24.6, 4.8,25.2, 1.7,24.9];

var ngc4621Red = [2.37,19.41, 2.68,20.07, 3.7,20.24, 4.87,19.41, 2.44,21.59, 0.79,22.13, 1.12,22.13, 1.28,23.0, 2.63,22.74,
  3.37,22.02, 3.82,21.8, 4.06,21.87, 3.87,22.37, 4.04,22.7, 6.09,22.63];
var ngc4621Blue = [3.6,19.37, 3.98,20.24, 3.37,20.26, 3.53,20.52, 3.08,20.5, 2.94,20.74, 3.23,20.67, 3.2,20.89, 3.0,21.07,
  3.57,21.02, 2.8,21.54, 2.87,21.59, 2.7,21.43, 3.15,21.43, 3.1,21.72, 3.44,21.76, 2.65,21.93, 2.82,22.02, 2.99,22.09,
  3.87,21.93, 3.92,22.02, 4.47,22.02, 5.25,22.09, 2.04,22.2, 2.2,22.46, 2.44,22.41, 2.58,22.37, 2.7,22.59, 3.06,22.46,
  3.3,22.52, 3.44,22.2, 3.49,22.46, 3.58,22.63, 3.72,22.52, 3.82,22.63, 4.15,22.57, 2.7,22.85, 3.01,22.8, 3.15,22.85,
  3.3,22.85, 3.44,22.8, 3.63,22.8, 3.82,22.89, 4.23,22.89, 2.22,22.91, 1.34,22.8, 1.7,22.96, 3.2,22.37];
var ngc4621Grey = [1.9,20.67, 1.2,21.39, 1.1,21.72, 1.0,24.6, 1.2,23.4, 1.4,24.1, 1.6,23.7, 1.8,24.9, 2.0,23.5, 2.1,24.4,
  2.3,25.1, 2.4,23.8, 2.5,24.5, 2.6,23.3, 2.7,24.0, 2.8,24.8, 2.9,23.5, 3.0,24.3, 3.0,25.2, 3.1,23.2, 3.2,23.9, 3.2,24.7,
  3.3,23.5, 3.4,24.2, 3.4,25.0, 3.5,23.7, 3.5,24.5, 3.6,23.3, 3.6,24.9, 3.7,24.0, 3.8,23.6, 3.8,25.2, 3.9,24.3, 4.0,23.4,
  4.1,24.7, 4.2,23.9, 4.3,25.1, 4.4,24.4, 4.5,23.6, 4.6,24.9, 4.7,24.1, 4.9,25.3, 5.0,24.6, 5.2,23.8, 5.3,25.0, 5.5,24.4,
  5.7,25.2, 5.9,24.7, 6.1,25.1, 3.3,24.6, 3.7,23.2, 4.0,25.0];

var ngc4649Red = [2.38,16.7, 4.58,18.37, 2.99,19.17, 3.32,19.15, 2.95,19.87, 3.73,19.87, 2.78,20.15, 1.22,20.22, 1.6,20.33,
  2.75,20.91, 5.03,21.24, 1.97,21.39, 2.09,21.72, 3.04,21.35, 3.32,21.46, 3.83,21.74, 0.88,22.87, 1.01,23.0, 1.55,22.65,
  1.54,22.83, 1.6,22.39, 1.94,22.87, 1.9,22.98, 3.44,22.98, 4.25,22.48, 4.4,22.7, 4.56,22.11, 4.87,22.48, 4.8,22.98,
  4.89,22.98, 3.83,22.87, 4.18,22.87, 3.13,21.78, 2.8,22.87];
var ngc4649Blue = [4.02,20.09, 3.44,20.2, 3.09,20.48, 2.85,20.7, 2.49,20.98, 3.89,20.74, 1.89,21.3, 2.17,21.39, 1.3,22.48,
  1.71,22.43, 5.23,22.61, 5.53,22.61, 5.04,22.39, 4.42,22.39, 4.32,22.04,
  1.85,22.3, 1.95,22.7, 2.05,22.1, 2.1,22.95, 2.15,22.5, 2.25,21.85, 2.3,22.75, 2.35,22.3, 2.45,22.9, 2.5,21.65, 2.5,22.45,
  2.6,22.1, 2.65,22.85, 2.7,21.5, 2.75,22.35, 2.8,22.95, 2.85,21.9, 2.9,22.6, 2.95,21.3, 3.0,22.2, 3.0,22.9, 3.05,21.7,
  3.1,22.45, 3.15,22.95, 3.2,21.95, 3.25,22.65, 3.3,21.45, 3.3,22.3, 3.35,22.9, 3.4,21.85, 3.45,22.55, 3.5,21.25, 3.5,22.95,
  3.55,22.15, 3.6,21.65, 3.6,22.7, 3.65,22.3, 3.7,21.3, 3.7,22.95, 3.75,21.95, 3.8,22.55, 3.85,21.3, 3.85,22.85, 3.9,22.2,
  3.95,21.7, 4.0,22.65, 4.0,21.3, 4.05,22.95, 4.1,22.35, 4.15,21.85, 4.2,22.75, 4.25,22.15, 4.3,22.5, 2.2,22.2, 2.4,22.6,
  2.55,22.95, 2.7,22.0, 2.8,22.55, 3.05,22.75, 3.15,21.55, 3.25,22.1, 3.4,22.75, 3.55,22.5, 3.65,22.0, 3.8,22.3, 3.9,22.95,
  3.95,22.45, 4.1,22.9, 2.9,22.25, 3.35,22.5, 3.45,21.5, 2.65,21.75, 4.35,22.85, 4.45,22.6, 1.75,22.6, 2.0,22.5, 2.6,22.6,
  3.1,22.1];
var ngc4649Grey = [5.36,18.09, 5.48,19.78, 5.6,21.3, 5.62,21.85, 3.37,19.78, 2.31,19.83, 1.43,21.35, 0.8,24.6, 0.9,23.5,
  1.0,24.1, 1.1,25.0, 1.2,23.7, 1.3,24.5, 1.4,23.3, 1.5,24.9, 1.6,24.0, 1.7,23.6, 1.8,25.2, 1.9,24.3, 2.0,23.4, 2.0,24.8,
  2.1,23.9, 2.2,24.5, 2.3,23.3, 2.3,25.1, 2.4,24.1, 2.5,23.6, 2.5,24.7, 2.6,23.2, 2.6,25.3, 2.7,24.3, 2.8,23.7, 2.8,24.9,
  2.9,23.3, 2.9,24.5, 3.0,23.9, 3.0,25.2, 3.1,23.4, 3.1,24.6, 3.2,24.1, 3.2,25.0, 3.3,23.2, 3.3,23.8, 3.3,24.7, 3.4,24.3,
  3.4,25.3, 3.5,23.5, 3.5,24.0, 3.5,24.9, 3.6,23.3, 3.6,24.5, 3.7,23.9, 3.7,25.1, 3.8,23.4, 3.8,24.2, 3.8,24.8, 3.9,23.7,
  3.9,25.3, 4.0,23.2, 4.0,24.4, 4.1,23.9, 4.1,25.0, 4.2,23.5, 4.2,24.6, 4.3,24.1, 4.3,25.2, 4.4,23.4, 4.4,24.8, 4.5,23.8,
  4.5,24.4, 4.6,25.1, 4.6,23.3, 4.7,24.0, 4.7,24.7, 4.8,23.6, 4.8,25.3, 4.9,24.3, 5.0,23.4, 5.0,24.9, 5.1,23.9, 5.1,24.5,
  5.2,25.2, 5.2,23.5, 5.3,24.1, 5.4,24.7, 5.4,23.8, 5.5,25.0, 5.5,23.3, 5.6,24.4, 5.7,23.9, 5.7,25.3, 5.8,24.6, 5.9,23.6,
  5.9,25.0, 6.0,24.2, 6.1,23.4, 6.1,24.8, 3.15,23.1, 3.45,23.15, 3.75,23.1, 4.05,23.15, 4.35,23.1, 2.85,23.15, 4.65,23.05,
  4.95,23.1, 5.25,23.05, 2.45,23.1, 3.25,24.4, 3.65,24.2, 4.15,24.3, 4.55,24.9, 2.75,24.6, 2.25,24.3, 3.95,24.6, 5.65,23.5,
  6.05,23.1, 1.6,23.2, 2.15,23.2, 2.45,23.5, 2.65,23.9, 2.95,23.6, 3.15,24.1, 3.35,23.5, 3.45,24.6, 3.55,23.2, 3.75,23.5,
  3.85,24.0, 3.95,23.4, 4.05,23.9, 4.15,24.7, 4.25,23.3, 4.35,24.0, 4.45,24.3, 4.55,23.5, 4.65,24.4, 4.75,23.4, 4.85,24.1,
  4.95,23.7, 5.05,24.3, 5.15,23.3, 5.35,23.6, 5.45,24.3, 5.75,24.0, 5.85,23.3, 6.0,23.8, 5.3,24.9, 4.9,24.6, 4.4,25.1,
  3.0,24.4, 2.4,24.6, 1.9,23.7, 1.5,24.4, 1.1,23.4, 3.65,24.8, 4.2,25.0, 5.6,25.1, 6.1,25.3];

var ngc4660Red = [1.62,16.7, 2.87,17.59, 4.25,18.89, 3.96,20.52, 4.03,21.5, 3.23,21.78, 3.29,21.67, 3.27,21.61, 2.83,22.91,
  3.37,22.76, 5.28,22.93, 5.32,22.91];
var ngc4660Blue = [2.83,20.61, 2.99,20.78, 3.02,21.02, 2.94,21.17, 3.18,21.11, 2.78,21.3, 2.64,21.46, 2.66,21.63, 2.83,21.52,
  2.97,21.61, 2.4,22.04, 2.55,22.26, 2.41,22.5, 2.17,22.59, 2.4,22.98, 2.55,22.48, 2.64,22.83, 2.74,22.39, 2.83,22.76,
  2.99,22.48, 3.09,22.65, 3.13,22.48, 2.99,22.87, 3.13,22.87, 3.23,22.72, 3.27,22.17, 3.41,21.89, 3.6,21.89, 3.72,22.22,
  3.53,22.5, 3.85,22.61, 4.17,22.91, 4.96,21.57, 5.08,22.5, 2.71,22.54, 2.9,22.83];
var ngc4660Grey = [5.01,17.7, 5.15,20.11, 5.25,20.26, 4.71,20.52, 1.84,20.87, 0.99,22.26, 1.39,22.39, 1.08,23.41, 1.7,23.5,
  1.9,24.2, 2.0,23.3, 2.2,24.6, 2.3,23.7, 2.4,25.1, 2.5,24.0, 2.6,23.4, 2.7,24.5, 2.8,23.2, 2.9,25.0, 3.0,24.1, 3.1,23.6,
  3.2,24.7, 3.3,23.3, 3.4,24.3, 3.5,25.2, 3.6,23.8, 3.7,24.5, 3.8,23.4, 3.9,24.9, 4.0,23.9, 4.1,25.2, 4.2,24.3, 4.3,23.6,
  4.4,24.7, 4.5,23.3, 4.6,25.0, 4.7,24.1, 4.8,23.7, 4.9,24.6, 5.0,25.3, 5.1,24.0, 5.2,23.5, 5.3,24.9, 5.4,24.3, 5.6,25.1,
  5.7,23.9, 5.8,24.6, 6.0,25.0, 6.1,24.2, 3.2,25.3, 4.5,25.2, 2.5,23.1, 3.5,23.2];

// ---------- layout ----------
var W = 485, H = 1022;
var marginLeft = 71, marginTop = 21, pw = 196, ph = 136.6;

function pairs(a) {
  var out = [];
  for (var i = 0; i < a.length; i += 2) out.push({x: a[i], y: a[i+1]});
  return out;
}

var panels = [
  [ngc3377Grey, ngc3377Blue, ngc3377Red], [ngc4278Grey, ngc4278Blue, ngc4278Red],
  [ngc4365Grey, ngc4365Blue, ngc4365Red], [ngc4374Grey, ngc4374Blue, ngc4374Red],
  [ngc4382Grey, ngc4382Blue, ngc4382Red], [ngc4406Grey, ngc4406Blue, ngc4406Red],
  [ngc4473Grey, ngc4473Blue, ngc4473Red], [ngc4486Grey, ngc4486Blue, ngc4486Red],
  [ngc4526Grey, ngc4526Blue, ngc4526Red], [ngc4552Grey, ngc4552Blue, ngc4552Red],
  [ngc4570Grey, ngc4570Blue, ngc4570Red], [ngc4621Grey, ngc4621Blue, ngc4621Red],
  [ngc4649Grey, ngc4649Blue, ngc4649Red], [ngc4660Grey, ngc4660Blue, ngc4660Red]
].map(function(p, i) {
  return {name: galaxyNames[i], grey: pairs(p[0]), blue: pairs(p[1]), red: pairs(p[2]),
          col: i % 2, row: Math.floor(i / 2)};
});

var x = d3.scaleLinear().domain([0.6, 6.2]).range([0, pw]);
var y = d3.scaleLinear().domain([16.6, 25.5]).range([0, ph]);

var svg = d3.select('body').append('svg').attr('width', W).attr('height', H);

var tri = d3.symbol().type(d3.symbolTriangle).size(17);
var cross = d3.symbol().type(d3.symbolCross).size(11);

panels.forEach(function(p, i) {
  var g = svg.append('g')
    .attr('transform', 'translate(' + (marginLeft + p.col * pw) + ',' + (marginTop + p.row * ph) + ')');

  g.append('clipPath').attr('id', 'clip' + i)
    .append('rect').attr('width', pw).attr('height', ph);
  var plot = g.append('g').attr('clip-path', 'url(#clip' + i + ')');

  plot.selectAll('.grey').data(p.grey).enter().append('path')
    .attr('d', cross)
    .attr('transform', function(d) { return 'translate(' + x(d.x) + ',' + y(d.y) + ')'; })
    .style('fill', '#b4b4b4');

  plot.selectAll('.blue').data(p.blue).enter().append('rect')
    .attr('x', function(d) { return x(d.x) - 2.8; })
    .attr('y', function(d) { return y(d.y) - 2.8; })
    .attr('width', 5.6).attr('height', 5.6)
    .style('fill', '#0000ff');

  plot.selectAll('.red').data(p.red).enter().append('path')
    .attr('d', tri)
    .attr('transform', function(d) { return 'translate(' + x(d.x) + ',' + y(d.y) + ')'; })
    .style('fill', '#ff0000');

  // inward ticks on all four sides
  var ax = [
    {axis: d3.axisBottom(x), t: [0, 0]},
    {axis: d3.axisTop(x), t: [0, ph]},
    {axis: d3.axisRight(y), t: [0, 0]},
    {axis: d3.axisLeft(y), t: [pw, 0]}
  ];
  ax.forEach(function(a, k) {
    var isX = k < 2;
    var minor = isX ? d3.range(0.7, 6.2, 0.1) : d3.range(17, 25.5, 0.5);
    g.append('g').attr('transform', 'translate(' + a.t + ')')
      .call(a.axis.tickValues(minor).tickSize(2.5).tickFormat(''))
      .call(function(s) { s.select('.domain').remove(); s.selectAll('line').attr('stroke-width', 1); });
    g.append('g').attr('transform', 'translate(' + a.t + ')')
      .call(a.axis.tickValues(isX ? xTicks : yTicks).tickSize(5).tickFormat(''))
      .call(function(s) { s.select('.domain').remove(); s.selectAll('line').attr('stroke-width', 1.2); });
  });

  g.append('rect').attr('width', pw).attr('height', ph)
    .style('fill', 'none').style('stroke', '#000').style('stroke-width', 1.3);

  g.append('text').attr('x', 46).attr('y', 22)
    .attr('xml:space', 'preserve')
    .style('font-size', '14.5px').style('letter-spacing', '0.5px')
    .text(p.name.replace(' ', '  '));

  if (p.col === 0) {
    g.selectAll('.ylab').data(yTicks).enter().append('text')
      .attr('x', -7).attr('y', function(d) { return y(d) + 5; })
      .attr('text-anchor', 'end').style('font-size', '14px')
      .text(function(d) { return d; });
  }
  if (p.row === 6) {
    g.selectAll('.xlab').data(xTicks).enter().append('text')
      .attr('x', function(d) { return x(d); }).attr('y', ph + 23)
      .attr('text-anchor', 'middle').style('font-size', '14px')
      .text(function(d) { return d; });
  }
});

svg.append('text').attr('x', 30).attr('y', 522).attr('text-anchor', 'middle')
  .style('font-size', '14px').text('g');
svg.append('text').attr('x', marginLeft + pw).attr('y', 1018).attr('text-anchor', 'middle')
  .style('font-size', '14px').text('(g\u2212K)');
</script>
</body>
</html>
